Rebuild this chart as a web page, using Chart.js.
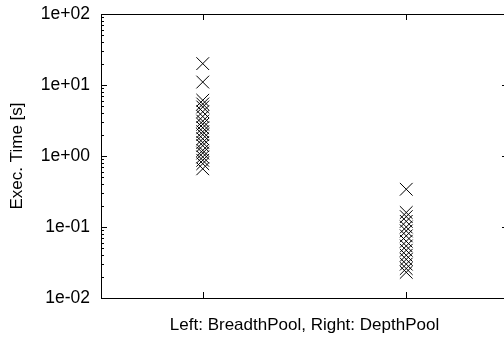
<!DOCTYPE html>
<html>
<head>
<meta charset="utf-8">
<script src="https://cdn.jsdelivr.net/npm/chart.js@4/dist/chart.umd.min.js"></script>
<style>
html,body{margin:0;padding:0;background:#fff;overflow:hidden;}
#wrap{width:508px;height:339px;}
</style>
</head>
<body>
<div id="wrap"><canvas id="c" width="508" height="339"></canvas></div>
<script>
const categories = ["BreadthPool", "DepthPool"];
const categoryPositions = [1, 2];
const breadthPoolTimes = [20, 11, 6.1, 5.4, 4.9, 4.2, 3.6, 3.1, 2.8, 2.5, 2.2, 2.0, 1.75, 1.55, 1.4, 1.2, 1.1, 0.97, 0.87, 0.78, 0.66];
const depthPoolTimes = [0.34, 0.16, 0.14, 0.12, 0.10, 0.088, 0.075, 0.063, 0.054, 0.047, 0.040, 0.035, 0.030, 0.026, 0.023];
const yTickValues = [0.01, 0.1, 1, 10, 100];
const yTickLabels = ["1e-02", "1e-01", "1e+00", "1e+01", "1e+02"];

const FONT = "'Liberation Sans', Arial, sans-serif";
Chart.defaults.color = '#000';
Chart.defaults.font.family = FONT;

const mkData = (pos, arr) => arr.map(v => ({x: pos, y: v}));

const frame = {
  id: 'frame',
  afterDraw(chart) {
    const ctx = chart.ctx, a = chart.chartArea;
    const xs = chart.scales.x, ys = chart.scales.y;
    ctx.save();
    ctx.strokeStyle = '#000';
    ctx.lineWidth = 1;
    ctx.beginPath();
    ctx.rect(Math.round(a.left) + 0.5, Math.round(a.top) + 0.5, Math.round(a.right - a.left), Math.round(a.bottom - a.top));
    ctx.stroke();
    ctx.beginPath();
    for (let d = 0; d < yTickValues.length; d++) {
      const v = yTickValues[d];
      const py = Math.round(ys.getPixelForValue(v)) + 0.5;
      ctx.moveTo(a.left, py); ctx.lineTo(a.left + 6, py);
      ctx.moveTo(a.right, py); ctx.lineTo(a.right - 6, py);
      if (d < yTickValues.length - 1) {
        for (let m = 2; m <= 9; m++) {
          const pm = Math.round(ys.getPixelForValue(v * m)) + 0.5;
          ctx.moveTo(a.left, pm); ctx.lineTo(a.left + 3, pm);
          ctx.moveTo(a.right, pm); ctx.lineTo(a.right - 3, pm);
        }
      }
    }
    categoryPositions.forEach(p => {
      const px = Math.round(xs.getPixelForValue(p)) + 0.5;
      ctx.moveTo(px, a.bottom); ctx.lineTo(px, a.bottom - 6);
      ctx.moveTo(px, a.top); ctx.lineTo(px, a.top + 6);
    });
    ctx.stroke();
    ctx.restore();
  }
};

new Chart(document.getElementById('c'), {
  type: 'scatter',
  data: {
    datasets: [
      {label: categories[0], data: mkData(categoryPositions[0], breadthPoolTimes)},
      {label: categories[1], data: mkData(categoryPositions[1], depthPoolTimes)}
    ].map(d => Object.assign(d, {
      pointStyle: 'crossRot', pointRadius: 9, pointHoverRadius: 9,
      borderColor: '#000', backgroundColor: '#000', borderWidth: 1
    }))
  },
  options: {
    responsive: false,
    animation: false,
    events: [],
    layout: {autoPadding: false, padding: {top: 14, right: 0, left: 0, bottom: 0}},
    plugins: {legend: {display: false}, tooltip: {enabled: false}},
    scales: {
      x: {
        type: 'linear', min: 0.5, max: 2.5,
        afterBuildTicks: s => { s.ticks = categoryPositions.map(v => ({value: v})); },
        afterFit: s => { s.height = 41; s.paddingLeft = 0; s.paddingRight = 0; },
        grid: {display: false, drawTicks: false},
        border: {display: false},
        ticks: {display: false},
        title: {display: true, text: 'Left: BreadthPool, Right: DepthPool', font: {size: 17}, color: '#000', padding: {top: 0, bottom: 3}}
      },
      y: {
        type: 'logarithmic', min: 0.01, max: 100,
        afterBuildTicks: s => { s.ticks = yTickValues.map(v => ({value: v})); },
        afterFit: s => { s.width = 101; s.paddingTop = 0; s.paddingBottom = 0; },
        grid: {display: false, drawTicks: false},
        border: {display: false},
        ticks: {
          padding: 11, font: {size: 17.5}, color: '#000',
          callback: (v) => { const i = yTickValues.indexOf(v); return i >= 0 ? yTickLabels[i] : ''; }
        },
        title: {display: true, text: 'Exec. Time [s]', font: {size: 17}, color: '#000', padding: {top: 7, bottom: 0}}
      }
    }
  },
  plugins: [frame]
});
</script>
</body>
</html>
